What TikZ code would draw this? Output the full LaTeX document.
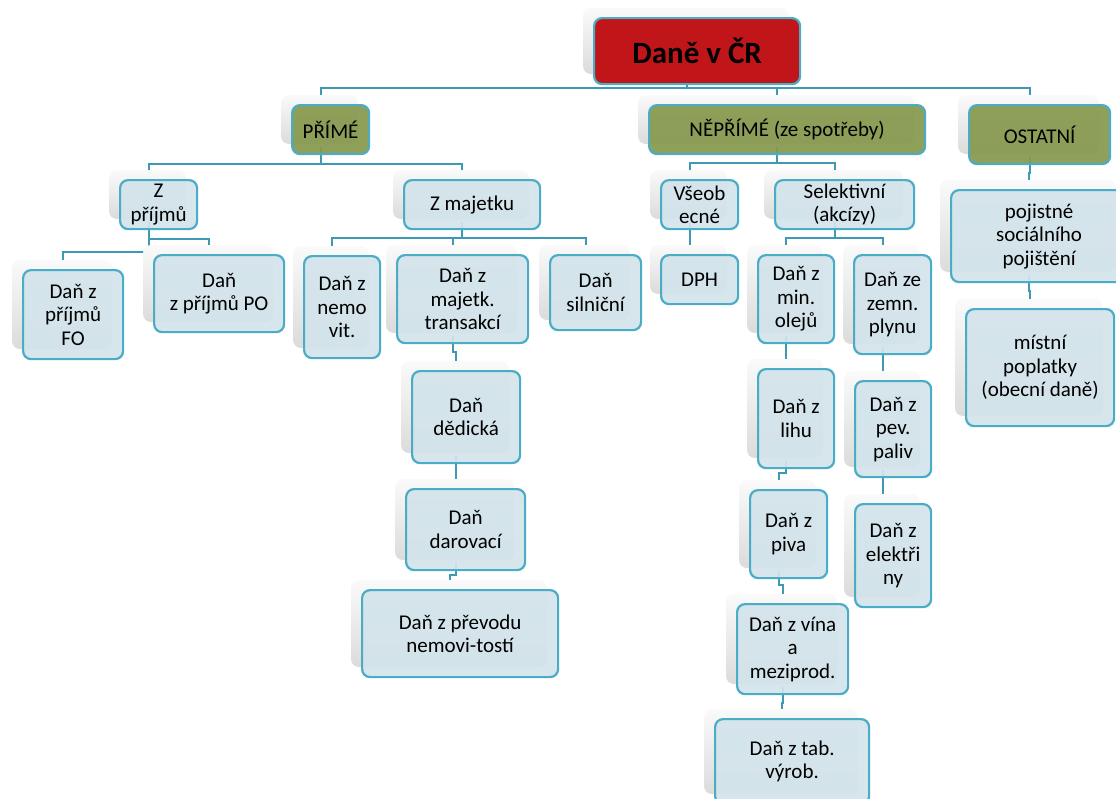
\documentclass[tikz,border=0pt]{standalone}
\usepackage{fontspec}
\setmainfont{Carlito}
\usetikzlibrary{backgrounds}
\definecolor{bordc}{HTML}{4BACC6}
\definecolor{linec}{HTML}{3E9AB4}
\definecolor{boxc}{HTML}{D3E4EB}
\definecolor{olivec}{HTML}{86994E}
\definecolor{redc}{HTML}{C0161A}
\tikzset{
  basebox/.style={draw=bordc, line width=2.2pt, rounded corners=8pt, align=center,
    inner sep=0pt, fill opacity=0.93, text opacity=1,
    font=\fontsize{21}{23.5}\selectfont, text=black},
  leafbox/.style={basebox, fill=boxc},
  headbox/.style={basebox, fill=olivec},
  titlebox/.style={basebox, fill=redc, fill opacity=1, font=\fontsize{31}{36}\selectfont\bfseries},
  conn/.style={draw=linec, line width=2.2pt},
  shadowbox/.style={rounded corners=8pt, top color=gray!4, bottom color=gray!28},
}
% name, x1, y1, x2, y2, style, text
\newcommand\bx[7]{%
  \shade[shadowbox] (#2-10,#3-9) rectangle (#4-10,#5-9);
  \node[#6, anchor=north west, minimum width={#4-#2}, minimum height={#5-#3}] (#1) at (#2,#3) {#7};
}
% parent, child, bus offset
\newcommand\lnk[3]{%
  \draw[conn] ([xshift=-10pt,yshift=8pt]#1.south) -- ([xshift=-10pt,yshift=-#3pt]#1.south) -| ([xshift=-10pt]#2.north);
}
\begin{document}
\begin{tikzpicture}[x=1pt,y=-1pt]
\useasboundingbox (0,0) rectangle (1116,798);
\clip (0,0) rectangle (1116,798);

\bx{title}{593}{17}{799}{83}{titlebox}{Daně v ČR}

\bx{prime}{291}{104}{368}{153}{headbox}{PŘÍMÉ}
\bx{neprime}{648}{104}{924}{153}{headbox}{NĚPŘÍMÉ (ze spotřeby)}
\bx{ostatni}{968}{104}{1109}{163}{headbox}{OSTATNÍ}

\bx{zprijmu}{119}{179}{196}{228}{leafbox}{Z\\příjmů}
\bx{zmajetku}{403}{179}{539}{228}{leafbox}{Z majetku}
\bx{vseob}{660}{179}{737}{228}{leafbox}{Všeob\\ecné}
\bx{selekt}{774}{179}{913}{228}{leafbox}{Selektivní\\(akcízy)}
\bx{pojistne}{950}{189}{1126}{281}{leafbox}{pojistné\\sociálního\\pojištění}
\bx{mistni}{965}{308}{1113}{425}{leafbox}{místní\\poplatky\\(obecní daně)}

\bx{fo}{22}{269}{122}{358}{leafbox}{Daň z\\příjmů\\FO}
\bx{po}{153}{254}{283}{331}{leafbox}{Daň\\z příjmů PO}
\bx{nemo}{303}{255}{379}{357}{leafbox}{Daň z\\nemo\\vit.}
\bx{trans}{396}{254}{527}{342}{leafbox}{Daň z\\majetk.\\transakcí}
\bx{silnic}{549}{254}{640}{329}{leafbox}{Daň\\silniční}
\bx{dedic}{411}{370}{519}{462}{leafbox}{Daň\\dědická}
\bx{darov}{405}{488}{524}{569}{leafbox}{Daň\\darovací}
\bx{prevod}{361}{589}{557}{676}{leafbox}{Daň z převodu\\nemovi-tostí}

\bx{dph}{660}{254}{737}{303}{leafbox}{DPH}
\bx{oleju}{757}{254}{833}{342}{leafbox}{Daň z\\min.\\olejů}
\bx{plyn}{853}{254}{930}{353}{leafbox}{Daň ze\\zemn.\\plynu}
\bx{lihu}{757}{368}{833}{467}{leafbox}{Daň z\\lihu}
\bx{piva}{749}{489}{826}{577}{leafbox}{Daň z\\piva}
\bx{vina}{736}{603}{847}{693}{leafbox}{Daň z vína\\a\\meziprod.}
\bx{tab}{714}{718}{868}{803}{leafbox}{Daň z tab.\\výrob.}
\bx{paliv}{854}{380}{930}{476}{leafbox}{Daň z\\pev.\\paliv}
\bx{elektr}{854}{503}{930}{606}{leafbox}{Daň z\\elektři\\ny}

\begin{scope}[on background layer]
\lnk{title}{prime}{3}
\lnk{title}{neprime}{3}
\lnk{title}{ostatni}{3}
\lnk{prime}{zprijmu}{9}
\lnk{prime}{zmajetku}{9}
\lnk{neprime}{vseob}{8}
\lnk{neprime}{selekt}{8}
\lnk{ostatni}{pojistne}{8}
\lnk{pojistne}{mistni}{8}
\lnk{zprijmu}{po}{9}
\lnk{zprijmu}{fo}{22}
\lnk{zmajetku}{nemo}{8}
\lnk{zmajetku}{trans}{8}
\lnk{zmajetku}{silnic}{8}
\lnk{trans}{dedic}{8}
\lnk{dedic}{darov}{8}
\lnk{darov}{prevod}{4}
\lnk{vseob}{dph}{8}
\lnk{selekt}{oleju}{8}
\lnk{selekt}{plyn}{8}
\lnk{oleju}{lihu}{8}
\lnk{lihu}{piva}{4}
\lnk{piva}{vina}{6}
\lnk{vina}{tab}{8}
\lnk{plyn}{paliv}{8}
\lnk{paliv}{elektr}{8}
\end{scope}
\end{tikzpicture}
\end{document}
